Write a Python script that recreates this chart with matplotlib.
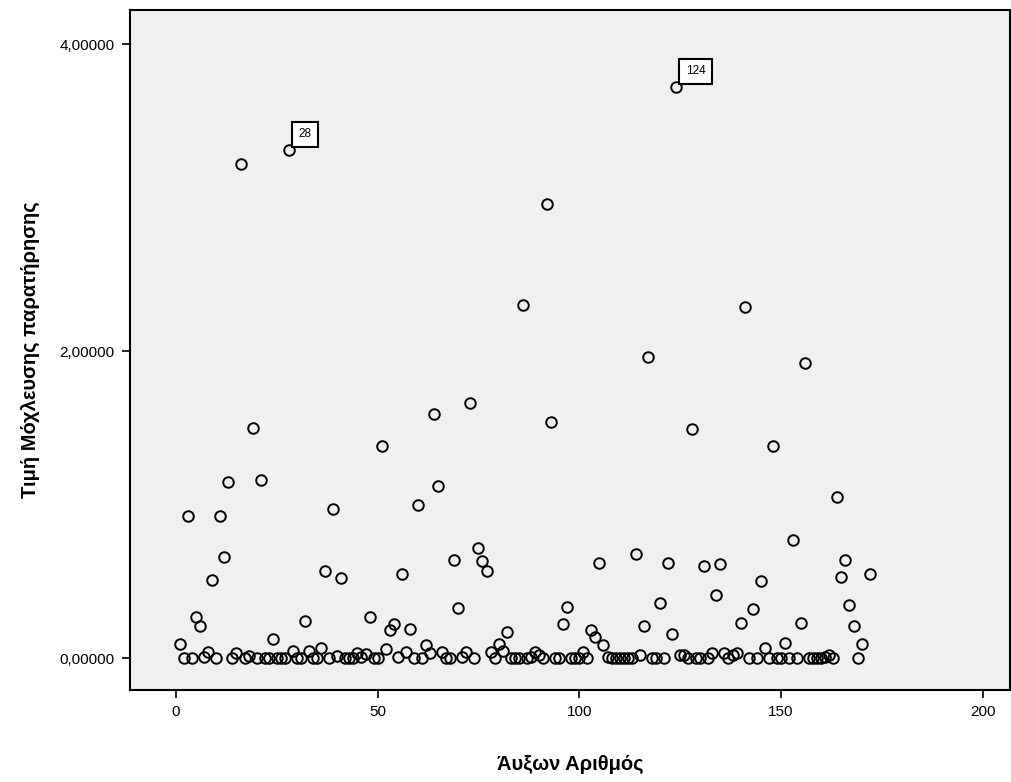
import numpy as np
import matplotlib.pyplot as plt

# leverage value per case (case number = position + 1); 171 missing
leverage = [
    0.09, 0.0, 0.925, 0.0, 0.27, 0.21, 0.01, 0.04, 0.51, 0.0,
    0.925, 0.66, 1.15, 0.0, 0.03, 3.22, 0.0, 0.015, 1.50, 0.0,
    1.16, 0.0, 0.0, 0.125, 0.0, 0.0, 0.0, 3.31, 0.045, 0.0,
    0.0, 0.24, 0.045, 0.0, 0.0, 0.063, 0.57, 0.0, 0.97, 0.015,
    0.52, 0.0, 0.0, 0.0, 0.03, 0.01, 0.025, 0.27, 0.0, 0.0,
    1.38, 0.06, 0.18, 0.22, 0.01, 0.55, 0.04, 0.19, 0.0, 1.00,
    0.0, 0.085, 0.03, 1.59, 1.12, 0.04, 0.0, 0.0, 0.64, 0.325,
    0.01, 0.04, 1.66, 0.0, 0.72, 0.63, 0.57, 0.04, 0.0, 0.09,
    0.045, 0.17, 0.0, 0.0, 0.0, 2.30, 0.0, 0.01, 0.04, 0.02,
    0.0, 2.96, 1.54, 0.0, 0.0, 0.22, 0.33, 0.0, 0.0, 0.0,
    0.04, 0.0, 0.18, 0.135, 0.62, 0.085, 0.01, 0.0, 0.0, 0.0,
    0.0, 0.0, 0.0, 0.68, 0.02, 0.21, 1.96, 0.0, 0.0, 0.36,
    0.0, 0.62, 0.16, 3.72, 0.02, 0.02, 0.0, 1.49, 0.0, 0.0,
    0.60, 0.0, 0.03, 0.41, 0.61, 0.03, 0.0, 0.02, 0.03, 0.226,
    2.29, 0.0, 0.32, 0.0, 0.50, 0.063, 0.0, 1.38, 0.0, 0.0,
    0.10, 0.0, 0.77, 0.0, 0.226, 1.92, 0.0, 0.0, 0.0, 0.0,
    0.01, 0.02, 0.0, 1.05, 0.525, 0.64, 0.345, 0.21, 0.0, 0.09,
    np.nan, 0.55,
]
cases = np.arange(1, len(leverage) + 1)
labelled = [28, 124]

x_ticks = [0, 50, 100, 150, 200]
y_ticks = [0, 2, 4]
y_ticklabels = ['0,00000', '2,00000', '4,00000']

plt.rcParams['font.family'] = ['Liberation Sans', 'DejaVu Sans']

fig = plt.figure(figsize=(10.12, 7.82), dpi=100)
ax = fig.add_axes([130 / 1012, 1 - 690 / 782, 880 / 1012, 680 / 782])
ax.set_facecolor('#f0f0f0')

ax.plot(cases, leverage, 'o', markersize=7.6, markerfacecolor='none',
        markeredgecolor='black', markeredgewidth=1.4)

for c in labelled:
    ax.annotate(str(c), (c, leverage[c - 1]), xytext=(7, 7),
                textcoords='offset points', fontsize=8.5, ha='left', va='bottom',
                bbox=dict(boxstyle='square,pad=0.55', fc='white', ec='black', lw=1.5))

ax.set_xlim(-11.4, 206.8)
ax.set_ylim(-0.208, 4.222)
ax.set_xticks(x_ticks)
ax.set_yticks(y_ticks)
ax.set_yticklabels(y_ticklabels)
ax.tick_params(direction='out', length=6, width=1.2, labelsize=11, pad=5)

for s in ax.spines.values():
    s.set_linewidth(1.5)

ax.set_xlabel('Άυξων Αριθμός', fontsize=14.5, fontweight='bold', labelpad=26)
ax.set_ylabel('Τιμή Μόχλευσης παρατήρησης', fontsize=14.5, fontweight='bold', labelpad=14)

fig.savefig('out.png', dpi=100)
